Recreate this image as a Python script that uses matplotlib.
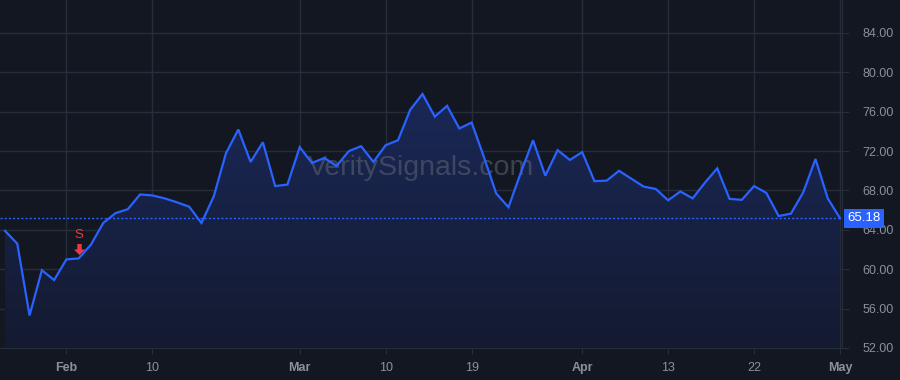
import numpy as np
import pandas as pd
import matplotlib
matplotlib.use("Agg")
import matplotlib.pyplot as plt
from matplotlib.patches import Polygon

plt.rcParams["font.family"] = ["Liberation Sans", "DejaVu Sans"]

# trading days, Jan 25 - May 3 2021 (Presidents Day and Good Friday closed)
dates = pd.bdate_range("2021-01-25", "2021-05-03")
dates = dates.drop(pd.to_datetime(["2021-02-15", "2021-04-02"]))

prices = [63.9, 62.6, 55.3, 59.9, 58.9, 61.0, 61.1, 62.5, 64.7, 65.7,
          66.1, 67.6, 67.5, 67.2, 66.8, 66.35, 64.7, 67.4, 71.8, 74.2,
          70.9, 72.9, 68.45, 68.6, 72.4, 70.8, 71.3, 70.5, 72.0, 72.5,
          70.9, 72.6, 73.1, 76.2, 77.8, 75.5, 76.6, 74.3, 74.9, 71.4,
          67.7, 66.3, 69.8, 73.1, 69.5, 72.1, 71.1, 71.9, 68.95, 69.0,
          70.0, 69.2, 68.4, 68.15, 67.0, 67.9, 67.2, 68.8, 70.25, 67.15,
          67.05, 68.45, 67.75, 65.4, 65.65, 67.8, 71.2, 67.2, 65.18]

tick_dates = ["2021-02-01", "2021-02-10", "2021-03-01", "2021-03-10", "2021-03-19",
              "2021-04-01", "2021-04-13", "2021-04-22", "2021-05-03"]
tick_labels = ["Feb", "10", "Mar", "10", "19", "Apr", "13", "22", "May"]
month_labels = ["Feb", "Mar", "Apr", "May"]

y_ticks = [52, 56, 60, 64, 68, 72, 76, 80, 84]
signal_date = "2021-02-02"
signal_text = "S"
last_price = prices[-1]

BG = "#131722"
GRID = "#272c39"
LINE = "#2962ff"
TXT = "#8c909b"
RED = "#f23645"

x = np.arange(len(prices))
y = np.array(prices)
pos = {d: i for i, d in enumerate(dates)}

fig = plt.figure(figsize=(9, 3.8), dpi=100, facecolor=BG)
ax = fig.add_axes([0, 32 / 380, 842 / 900, 348 / 380])
ax.set_facecolor(BG)

# x spacing: first point 5px from left edge, ~12.28px per bar
xl0 = -5 / 12.28
xl1 = xl0 + 842 / 12.28
ax.set_xlim(xl0, xl1)
ax.set_ylim(52, 87.35)

for v in y_ticks:
    ax.axhline(v, color=GRID, lw=1, zorder=0)
tick_pos = [pos[pd.Timestamp(d)] for d in tick_dates]
for p in tick_pos:
    ax.axvline(p, color=GRID, lw=1, zorder=0)

# gradient fill under the line
grad = np.linspace(0.0, 1.0, 256).reshape(-1, 1)
cmap = matplotlib.colors.LinearSegmentedColormap.from_list(
    "fill", [(0, "#141a30"), (1, "#1a2857")])
im = ax.imshow(grad, extent=[xl0, xl1, 52, y.max()], origin="lower",
               aspect="auto", cmap=cmap, zorder=1)
poly = Polygon(np.column_stack([np.r_[x[0], x, x[-1]], np.r_[52, y, 52]]),
               closed=True, transform=ax.transData, facecolor="none", edgecolor="none")
ax.add_patch(poly)
im.set_clip_path(poly)

ax.text((xl0 + xl1) / 2, 70.3, "VeritySignals.com", ha="center", va="center",
        fontsize=20.5, color="#5a5f6e", alpha=0.6, zorder=2)

ax.plot(x, y, color=LINE, lw=1.6, zorder=3, solid_joinstyle="miter")
ax.axhline(last_price, color=LINE, lw=1, ls=(0, (1.5, 1.5)), zorder=2)

# signal marker: block arrow pointing down, "S" above it
si = pos[pd.Timestamp(signal_date)]
sy = prices[si]
arrow = [(-0.2, 0.5), (0.2, 0.5), (0.2, 0.0), (0.5, 0.0), (0.0, -0.5),
         (-0.5, 0.0), (-0.2, 0.0), (-0.2, 0.5)]
ax.plot(si, sy + 0.95, marker=arrow, markersize=8, color=RED,
        markeredgewidth=0, zorder=4)
ax.text(si, sy + 2.35, signal_text, ha="center", va="center", color=RED,
        fontsize=9.5, zorder=4)

ax.set_xticks(tick_pos)
ax.set_xticklabels(tick_labels)
for lbl in ax.get_xticklabels():
    lbl.set_color(TXT)
    lbl.set_fontsize(9)
    if lbl.get_text() in month_labels:
        lbl.set_fontweight("bold")
ax.tick_params(axis="x", length=4, color=GRID, pad=6)

ax.yaxis.tick_right()
ax.set_yticks(y_ticks)
ax.set_yticklabels([f"{v:.2f}" for v in y_ticks])
ax.tick_params(axis="y", length=5, color=GRID, labelcolor=TXT, labelsize=9, pad=10)

for s in ["top", "left"]:
    ax.spines[s].set_visible(False)
ax.spines["right"].set_color(GRID)
ax.spines["bottom"].set_color(GRID)

# last price label
ax.text(xl1 + 0.45, last_price, f"{last_price:.2f}", ha="left", va="center",
        color="white", fontsize=9.5, zorder=5, clip_on=False,
        bbox=dict(boxstyle="square,pad=0.25", facecolor=LINE, edgecolor="none"))

fig.savefig("out.png", dpi=100, facecolor=BG)
